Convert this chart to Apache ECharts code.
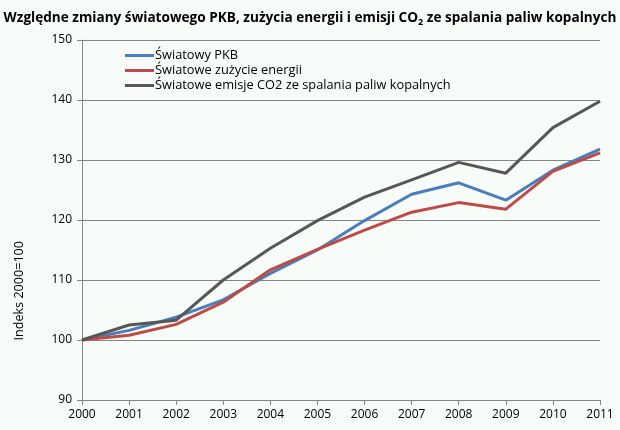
<!DOCTYPE html>
<html>
<head>
    <meta charset="utf-8" />
    <title>Względne zmiany światowego PKB</title>
    <style>
        body { margin: 0; padding: 0; background: #f7fcf9; }
        #chart { width: 620px; height: 430px; }
    </style>
    <script src="https://cdn.jsdelivr.net/npm/echarts@6/dist/echarts.min.js"></script>
</head>
<body>
    <div id="chart"></div>
    <script type="text/javascript">
        var years = ['2000', '2001', '2002', '2003', '2004', '2005', '2006', '2007', '2008', '2009', '2010', '2011'];
        var pkb = [100, 101.6, 103.8, 106.7, 111.1, 115.0, 119.9, 124.3, 126.2, 123.3, 128.3, 131.8];
        var energia = [100, 100.8, 102.6, 106.3, 111.7, 115.1, 118.3, 121.3, 122.9, 121.8, 128.1, 131.2];
        var emisje = [100, 102.5, 103.3, 110.0, 115.3, 119.9, 123.8, 126.7, 129.6, 127.8, 135.4, 139.8];
        var seriesNames = ['Światowy PKB', 'Światowe zużycie energii', 'Światowe emisje CO2 ze spalania paliw kopalnych'];
        var colors = ['#4a7ebb', '#be4b48', '#575757'];

        var font = 'Open Sans, DejaVu Sans, sans-serif';
        var chart = echarts.init(document.getElementById('chart'));

        function lineSeries(name, data, color) {
            return {
                name: name,
                type: 'line',
                data: data,
                symbol: 'none',
                smooth: false,
                lineStyle: { color: color, width: 3 },
                itemStyle: { color: color }
            };
        }

        chart.setOption({
            backgroundColor: '#f7fcf9',
            animation: false,
            color: colors,
            title: {
                text: 'Względne zmiany światowego PKB, zużycia energii i emisji {b|CO}{s|2} ze spalania paliw kopalnych',
                left: 'center',
                top: 5,
                textStyle: {
                    fontFamily: font,
                    fontSize: 13.6,
                    fontWeight: 'bold',
                    color: '#000',
                    rich: {
                        b: { fontFamily: font, fontSize: 13.6, fontWeight: 'bold', color: '#000' },
                        s: { fontFamily: font, fontSize: 9, fontWeight: 'bold', color: '#000', padding: [8, 0, 0, 0] }
                    }
                }
            },
            legend: {
                orient: 'vertical',
                left: 120,
                top: 44,
                itemGap: 2,
                itemWidth: 29,
                itemHeight: 14,
                icon: 'path://M0,6 L29,6 L29,9 L0,9 Z',
                textStyle: { fontFamily: font, fontSize: 12.8, color: '#000', padding: [0, 0, 0, -4] },
                data: seriesNames
            },
            grid: { left: 82, right: 20, top: 40, bottom: 30, containLabel: false },
            xAxis: {
                type: 'category',
                data: years,
                boundaryGap: false,
                axisLine: { lineStyle: { color: '#868686', width: 1 } },
                axisTick: { show: true, length: 5, alignWithLabel: true, lineStyle: { color: '#868686' } },
                axisLabel: { fontFamily: font, fontSize: 12, color: '#000', margin: 9, interval: 0 },
                splitLine: { show: false }
            },
            yAxis: {
                type: 'value',
                min: 90,
                max: 150,
                interval: 10,
                axisLine: { show: true, lineStyle: { color: '#868686', width: 1 } },
                axisTick: { show: true, length: 5, lineStyle: { color: '#868686' } },
                axisLabel: { fontFamily: font, fontSize: 12, color: '#000', margin: 10 },
                splitLine: { show: true, lineStyle: { color: '#868686', width: 1 } }
            },
            graphic: [{
                type: 'text',
                left: 13,
                top: 241,
                rotation: Math.PI / 2,
                style: {
                    text: 'Indeks 2000=100',
                    fontFamily: font,
                    fontSize: 12.6,
                    fill: '#000'
                }
            }],
            series: [
                lineSeries(seriesNames[0], pkb, colors[0]),
                lineSeries(seriesNames[1], energia, colors[1]),
                lineSeries(seriesNames[2], emisje, colors[2])
            ]
        });
    </script>
</body>
</html>
